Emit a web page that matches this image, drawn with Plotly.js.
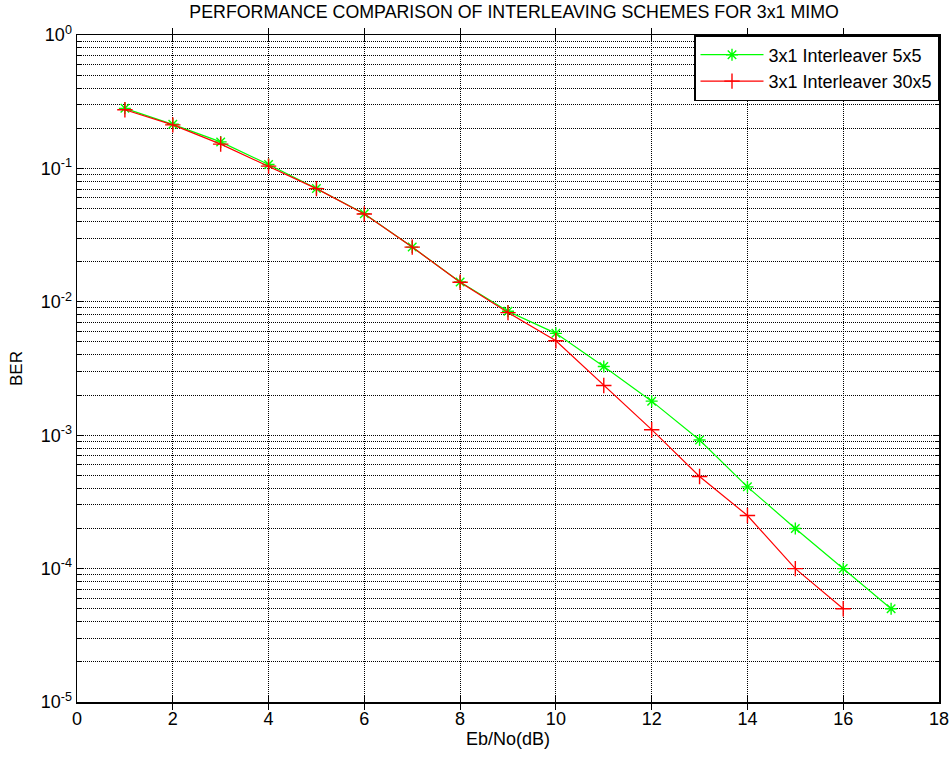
<!DOCTYPE html>
<html><head><meta charset="utf-8">
<script src="https://cdn.plot.ly/plotly-3.0.1.min.js"></script>
<style>body{margin:0;background:#fff}#chart{width:952px;height:757px}</style>
</head><body><div id="chart"></div>
<script>
const ebno5 = [1,2,3,4,5,6,7,8,9,10,11,12,13,14,15,16,17];
const ber5 = [0.282,0.214,0.158,0.107,0.0707,0.0458,0.0257,0.0141,0.0085,0.0058,0.00327,0.0018,0.00092,0.00041,0.0002,0.0001,0.00005];
const ebno30 = [1,2,3,4,5,6,7,8,9,10,11,12,13,14,15,16];
const ber30 = [0.275,0.212,0.152,0.104,0.0705,0.0455,0.0257,0.014,0.0083,0.0051,0.00236,0.0011,0.00049,0.00025,0.0001,0.00005];
const xTicks = [0,2,4,6,8,10,12,14,16,18];
const decades = [-5,-4,-3,-2,-1,0];

const majorVals = decades.map(d => Math.pow(10, d));
const majorText = decades.map(d => '10<sup>' + d + '</sup>');
const minorVals = [];
decades.forEach(d => { if (d < 0) for (let m = 2; m <= 9; m++) minorVals.push(m * Math.pow(10, d)); });

const fam = 'Liberation Sans, Arial, sans-serif';
const grid = {showgrid: true, gridcolor: '#000', griddash: '1px,1px', gridwidth: 1};

const traces = [
  {x: ebno5, y: ber5, name: '3x1 Interleaver 5x5', mode: 'lines+markers', legendgroup: 'a',
   line: {color: '#00ff00', width: 1.2},
   marker: {symbol: 'asterisk-open', size: 10, color: '#00ff00', line: {color: '#00ff00', width: 1.4}}},
  {x: ebno30, y: ber30, name: '3x1 Interleaver 30x5', mode: 'lines+markers', legendgroup: 'b',
   line: {color: '#ff0000', width: 1.2},
   marker: {symbol: 'cross-thin-open', size: 11, color: '#ff0000', line: {color: '#ff0000', width: 1.4}}},
  {x: [], y: [], yaxis: 'y2', showlegend: false, hoverinfo: 'skip'}
];

const layout = {
  width: 952, height: 757,
  margin: {l: 77, r: 13, t: 35, b: 55},
  paper_bgcolor: '#fff', plot_bgcolor: '#fff',
  font: {family: fam, size: 18, color: '#000'},
  title: {text: 'PERFORMANCE COMPARISON OF INTERLEAVING SCHEMES FOR 3x1 MIMO',
          font: {family: fam, size: 17.8, color: '#000'}, x: 0.54, xanchor: 'center', y: 0.985, yanchor: 'middle'},
  xaxis: Object.assign({
    range: [0, 18], tickvals: xTicks, ticktext: xTicks.map(String),
    zeroline: false, showline: true, linecolor: '#000', linewidth: 1.5, mirror: 'allticks',
    ticks: 'inside', ticklen: 6, tickcolor: '#000',
    title: {text: 'Eb/No(dB)', font: {family: fam, size: 18, color: '#000'}, standoff: 2},
    tickfont: {family: fam, size: 18, color: '#000'}
  }, grid),
  yaxis: Object.assign({
    type: 'log', range: [-5, 0], tickvals: majorVals, ticktext: majorText,
    zeroline: false, showline: true, linecolor: '#000', linewidth: 1.5, mirror: 'allticks',
    ticks: 'inside', ticklen: 6, tickcolor: '#000',
    title: {text: 'BER', font: {family: fam, size: 17, color: '#000'}, standoff: 13},
    tickfont: {family: fam, size: 18, color: '#000'}
  }, grid),
  yaxis2: Object.assign({
    type: 'log', range: [-5, 0], overlaying: 'y', side: 'left', tickvals: minorVals,
    showticklabels: false, zeroline: false, showline: false, mirror: 'ticks',
    ticks: 'inside', ticklen: 4, tickcolor: '#000'
  }, grid),
  legend: {
    x: 1, y: 1, xanchor: 'right', yanchor: 'top',
    bgcolor: '#fff', bordercolor: '#000', borderwidth: 1.5,
    font: {family: fam, size: 18, color: '#000'},
    traceorder: 'grouped', tracegroupgap: 0, itemwidth: 63
  },
  showlegend: true
};

Plotly.newPlot('chart', traces, layout, {displayModeBar: false, staticPlot: true});
</script></body></html>
